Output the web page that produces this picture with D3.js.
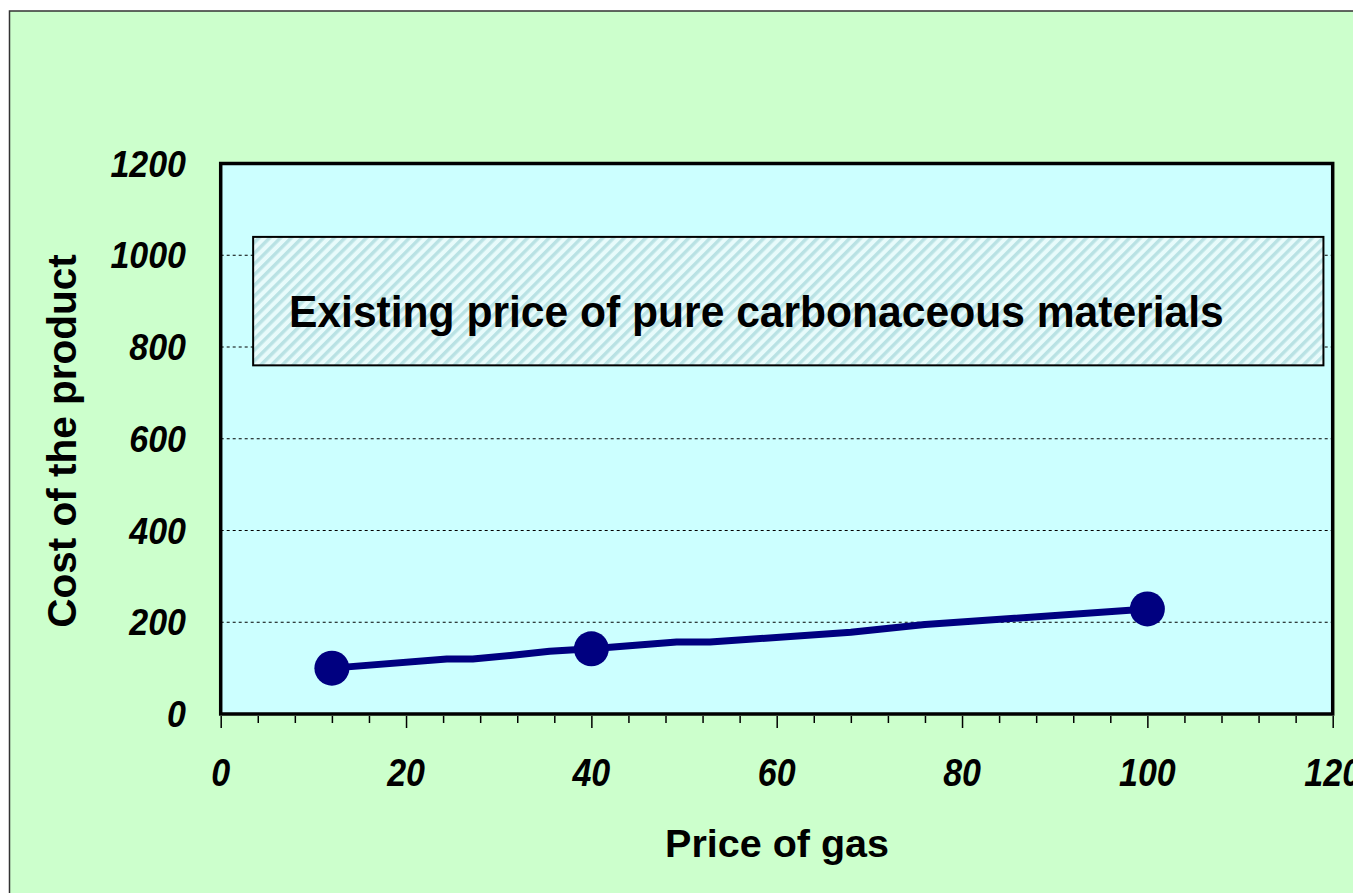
<!DOCTYPE html>
<html>
<head>
<meta charset="utf-8">
<script src="https://cdn.jsdelivr.net/npm/d3@7"></script>
<style>
  html, body { margin: 0; padding: 0; background: #ffffff; }
  svg { display: block; }
  text { font-family: "Liberation Sans", Arial, sans-serif; font-weight: bold; fill: #000; }
</style>
</head>
<body>
<svg id="chart" width="1353" height="893"></svg>
<script>
// ---- data ----
const priceOfGas   = [12, 24.4, 27.2, 31.5, 35.5, 40, 49.2, 52.8, 68, 76, 100];
const productCost  = [100, 120, 120, 128, 137, 142, 157, 157, 178, 195, 229];
const markerIndex  = [0, 5, 10];
const xTicks       = [0, 20, 40, 60, 80, 100, 120];
const yTicks       = [0, 200, 400, 600, 800, 1000, 1200];
const bandX        = [3.5, 119];     // existing-price band, x extent
const bandY        = [760, 1040];    // existing-price band, y extent
const bandLabel    = "Existing price of pure carbonaceous materials";
const xTitle       = "Price of gas";
const yTitle       = "Cost of the product";

// ---- layout ----
const svg = d3.select("#chart");
const W = 1353, H = 893;
const plot = { left: 220.7, top: 163.5, right: 1332.7, bottom: 714 };

// outer frame
svg.append("rect").attr("x", 9.5).attr("y", 11).attr("width", W + 10).attr("height", H + 10)
  .attr("fill", "#ccffcc").attr("stroke", "#333").attr("stroke-width", 1.5);

const x = d3.scaleLinear().domain([0, 120]).range([plot.left, plot.right]);
const y = d3.scaleLinear().domain([0, 1200]).range([plot.bottom, plot.top]);

// hatch pattern
const defs = svg.append("defs");
const pat = defs.append("pattern").attr("id", "hatch").attr("patternUnits", "userSpaceOnUse")
  .attr("width", 7.6).attr("height", 7.6).attr("patternTransform", "rotate(45)");
pat.append("rect").attr("width", 7.6).attr("height", 7.6).attr("fill", "#e8fbfb");
pat.append("rect").attr("width", 3.4).attr("height", 7.6).attr("fill", "#b9e2e4");

// plot area
svg.append("rect").attr("x", plot.left).attr("y", plot.top)
  .attr("width", plot.right - plot.left).attr("height", plot.bottom - plot.top)
  .attr("fill", "#ccffff");

// gridlines
svg.append("g").selectAll("line").data(yTicks.filter(d => d > 0 && d < 1200)).join("line")
  .attr("x1", plot.left).attr("x2", plot.right)
  .attr("y1", d => y(d)).attr("y2", d => y(d))
  .attr("stroke", "#000").attr("stroke-width", 1).attr("stroke-dasharray", "3,3");

// band
svg.append("rect")
  .attr("x", x(bandX[0])).attr("y", y(bandY[1]))
  .attr("width", x(bandX[1]) - x(bandX[0])).attr("height", y(bandY[0]) - y(bandY[1]))
  .attr("fill", "url(#hatch)").attr("stroke", "#000").attr("stroke-width", 2);
svg.append("text")
  .attr("transform", `translate(289,${y((bandY[0] + bandY[1]) / 2) + 26}) scale(1,1.05)`)
  .attr("font-size", 42.6).text(bandLabel);

// line
const pts = priceOfGas.map((d, i) => [d, productCost[i]]);
svg.append("path").datum(pts)
  .attr("d", d3.line().x(d => x(d[0])).y(d => y(d[1])))
  .attr("fill", "none").attr("stroke", "#000080").attr("stroke-width", 7)
  .attr("stroke-linejoin", "round");
svg.append("g").selectAll("circle").data(markerIndex.map(i => pts[i])).join("circle")
  .attr("cx", d => x(d[0])).attr("cy", d => y(d[1])).attr("r", 17.5).attr("fill", "#000080");

// plot border
svg.append("rect").attr("x", plot.left).attr("y", plot.top)
  .attr("width", plot.right - plot.left).attr("height", plot.bottom - plot.top)
  .attr("fill", "none").attr("stroke", "#000").attr("stroke-width", 3.5);

// x axis
const xAxis = d3.axisBottom(x).tickValues(d3.range(0, 121, 4)).tickSize(8).tickFormat("");
const gx = svg.append("g").attr("transform", `translate(0,${plot.bottom + 2})`).call(xAxis);
gx.select(".domain").remove();
gx.selectAll(".tick line").attr("stroke", "#000").attr("stroke-width", 1.5)
  .attr("y2", d => (d % 20 === 0 ? 12 : 7));
svg.append("g").selectAll("text").data(xTicks).join("text")
  .attr("transform", d => `translate(${x(d)},786) scale(1,1.12)`).attr("text-anchor", "middle")
  .attr("font-size", 34).attr("font-style", "italic").text(d => d);

// y axis labels
svg.append("g").selectAll("text").data(yTicks).join("text")
  .attr("transform", d => `translate(186,${y(d) + 13}) scale(1,1.08)`).attr("text-anchor", "end")
  .attr("font-size", 34).attr("font-style", "italic").text(d => d);

// titles
svg.append("text").attr("x", 777).attr("y", 857).attr("text-anchor", "middle")
  .attr("font-size", 39.5).text(xTitle);
svg.append("text").attr("transform", "translate(76,441) rotate(-90)").attr("text-anchor", "middle")
  .attr("font-size", 40.5).text(yTitle);
</script>
</body>
</html>
